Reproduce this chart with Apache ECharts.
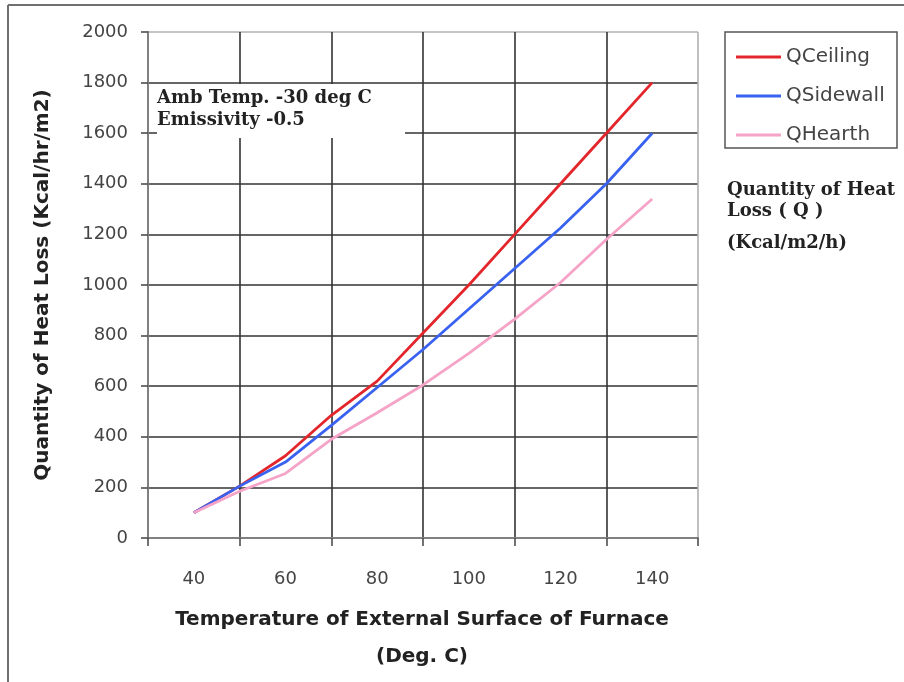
<!DOCTYPE html>
<html>
<head>
<meta charset="utf-8">
<script src="https://cdn.jsdelivr.net/npm/echarts@6/dist/echarts.min.js"></script>
<style>html,body{margin:0;padding:0;background:#fff}#c{width:904px;height:682px}</style>
</head>
<body>
<div id="c"></div>
<script>
const temps = [40, 50, 60, 70, 80, 90, 100, 110, 120, 130, 140];
const qCeiling = [100, 205, 325, 485, 620, 810, 1000, 1200, 1400, 1600, 1800];
const qSidewall = [100, 205, 300, 445, 595, 745, 905, 1065, 1225, 1400, 1600];
const qHearth = [100, 185, 255, 390, 495, 605, 730, 865, 1010, 1180, 1340];
const seriesNames = ['QCeiling', 'QSidewall', 'QHearth'];
const xLabels = [40, 60, 80, 100, 120, 140];

const pair = arr => temps.map((t, i) => [t, arr[i]]);
const dark = '#333', light = '#b0b0b0';
const ySplitColors = []; for (let i = 0; i <= 10; i++) ySplitColors.push(i === 10 ? light : dark);
const xSplitColors = []; for (let i = 0; i <= 6; i++) xSplitColors.push(i === 6 ? light : dark);

const chart = echarts.init(document.getElementById('c'));
chart.setOption({
  backgroundColor: '#fff',
  animation: false,
  grid: { left: 148, top: 32, right: 206, bottom: 144, containLabel: false },
  legend: {
    orient: 'vertical', left: 731, top: 42, itemGap: 19,
    itemWidth: 45, itemHeight: 3, icon: 'rect',
    textStyle: { fontFamily: 'DejaVu Sans', fontSize: 20, color: '#444', lineHeight: 20 },
    data: seriesNames
  },
  xAxis: [{
    type: 'value', min: 30, max: 150, interval: 20, position: 'bottom',
    axisLine: { show: true, onZero: false, lineStyle: { color: '#808080', width: 2 } },
    axisTick: { show: true, inside: false, length: 8, lineStyle: { color: '#444', width: 1.5 } },
    axisLabel: { show: false },
    splitLine: { show: true, lineStyle: { color: xSplitColors, width: 1.6 } }
  }, {
    type: 'value', min: 30, max: 150, interval: 10, position: 'bottom',
    axisLine: { show: false }, axisTick: { show: false }, splitLine: { show: false },
    axisLabel: {
      show: true, margin: 32, fontFamily: 'DejaVu Sans', fontSize: 18, color: '#444',
      formatter: v => (xLabels.indexOf(v) >= 0 ? String(v) : '')
    }
  }],
  yAxis: {
    type: 'value', min: 0, max: 2000, interval: 200,
    axisLine: { show: true, lineStyle: { color: '#808080', width: 2 } },
    axisTick: { show: true, inside: false, length: 7, lineStyle: { color: '#444', width: 1.5 } },
    axisLabel: { margin: 20, fontFamily: 'DejaVu Sans', fontSize: 18, color: '#444', formatter: v => String(v) },
    splitLine: { show: true, lineStyle: { color: ySplitColors, width: 1.6 } }
  },
  series: [
    { name: seriesNames[0], type: 'line', data: pair(qCeiling), showSymbol: false, symbol: 'none',
      lineStyle: { color: '#e3262b', width: 2.8 }, itemStyle: { color: '#e3262b' } },
    { name: seriesNames[1], type: 'line', data: pair(qSidewall), showSymbol: false, symbol: 'none',
      lineStyle: { color: '#3a62f0', width: 2.8 }, itemStyle: { color: '#3a62f0' } },
    { name: seriesNames[2], type: 'line', data: pair(qHearth), showSymbol: false, symbol: 'none',
      lineStyle: { color: '#f5a3c7', width: 2.8 }, itemStyle: { color: '#f5a3c7' } }
  ],
  graphic: [
    { type: 'line', z: 100, shape: { x1: 8, y1: 5, x2: 904, y2: 5 }, style: { stroke: '#707070', lineWidth: 2 } },
    { type: 'line', z: 100, shape: { x1: 8, y1: 5, x2: 8, y2: 682 }, style: { stroke: '#707070', lineWidth: 2 } },
    { type: 'rect', z: 100, shape: { x: 725, y: 32, width: 172, height: 116 }, style: { fill: 'none', stroke: '#555', lineWidth: 1.5 } },
    { type: 'rect', z: 100, shape: { x: 157, y: 84, width: 248, height: 54 }, style: { fill: '#fff', stroke: 'none' } },
    { type: 'text', z: 101, x: 157, y: 98, style: { text: 'Amb Temp. -30 deg C', font: 'bold 18px "DejaVu Serif"', fill: '#222', verticalAlign: 'middle' } },
    { type: 'text', z: 101, x: 157, y: 120, style: { text: 'Emissivity -0.5', font: 'bold 18px "DejaVu Serif"', fill: '#222', verticalAlign: 'middle' } },
    { type: 'text', z: 101, x: 727, y: 190, style: { text: 'Quantity of Heat', font: 'bold 18px "DejaVu Serif"', fill: '#222', verticalAlign: 'middle' } },
    { type: 'text', z: 101, x: 727, y: 211, style: { text: 'Loss ( Q )', font: 'bold 18px "DejaVu Serif"', fill: '#222', verticalAlign: 'middle' } },
    { type: 'text', z: 101, x: 727, y: 243, style: { text: '(Kcal/m2/h)', font: 'bold 18px "DejaVu Serif"', fill: '#222', verticalAlign: 'middle' } },
    { type: 'text', z: 101, x: 43, y: 285, rotation: Math.PI / 2,
      style: { text: 'Quantity of Heat Loss (Kcal/hr/m2)', font: 'bold 20px "DejaVu Sans"', fill: '#222', align: 'center', verticalAlign: 'middle' } },
    { type: 'text', z: 101, x: 422, y: 620,
      style: { text: 'Temperature of External Surface of Furnace', font: 'bold 20px "DejaVu Sans"', fill: '#222', align: 'center', verticalAlign: 'middle' } },
    { type: 'text', z: 101, x: 422, y: 657,
      style: { text: '(Deg. C)', font: 'bold 20px "DejaVu Sans"', fill: '#222', align: 'center', verticalAlign: 'middle' } }
  ]
});
</script>
</body>
</html>
